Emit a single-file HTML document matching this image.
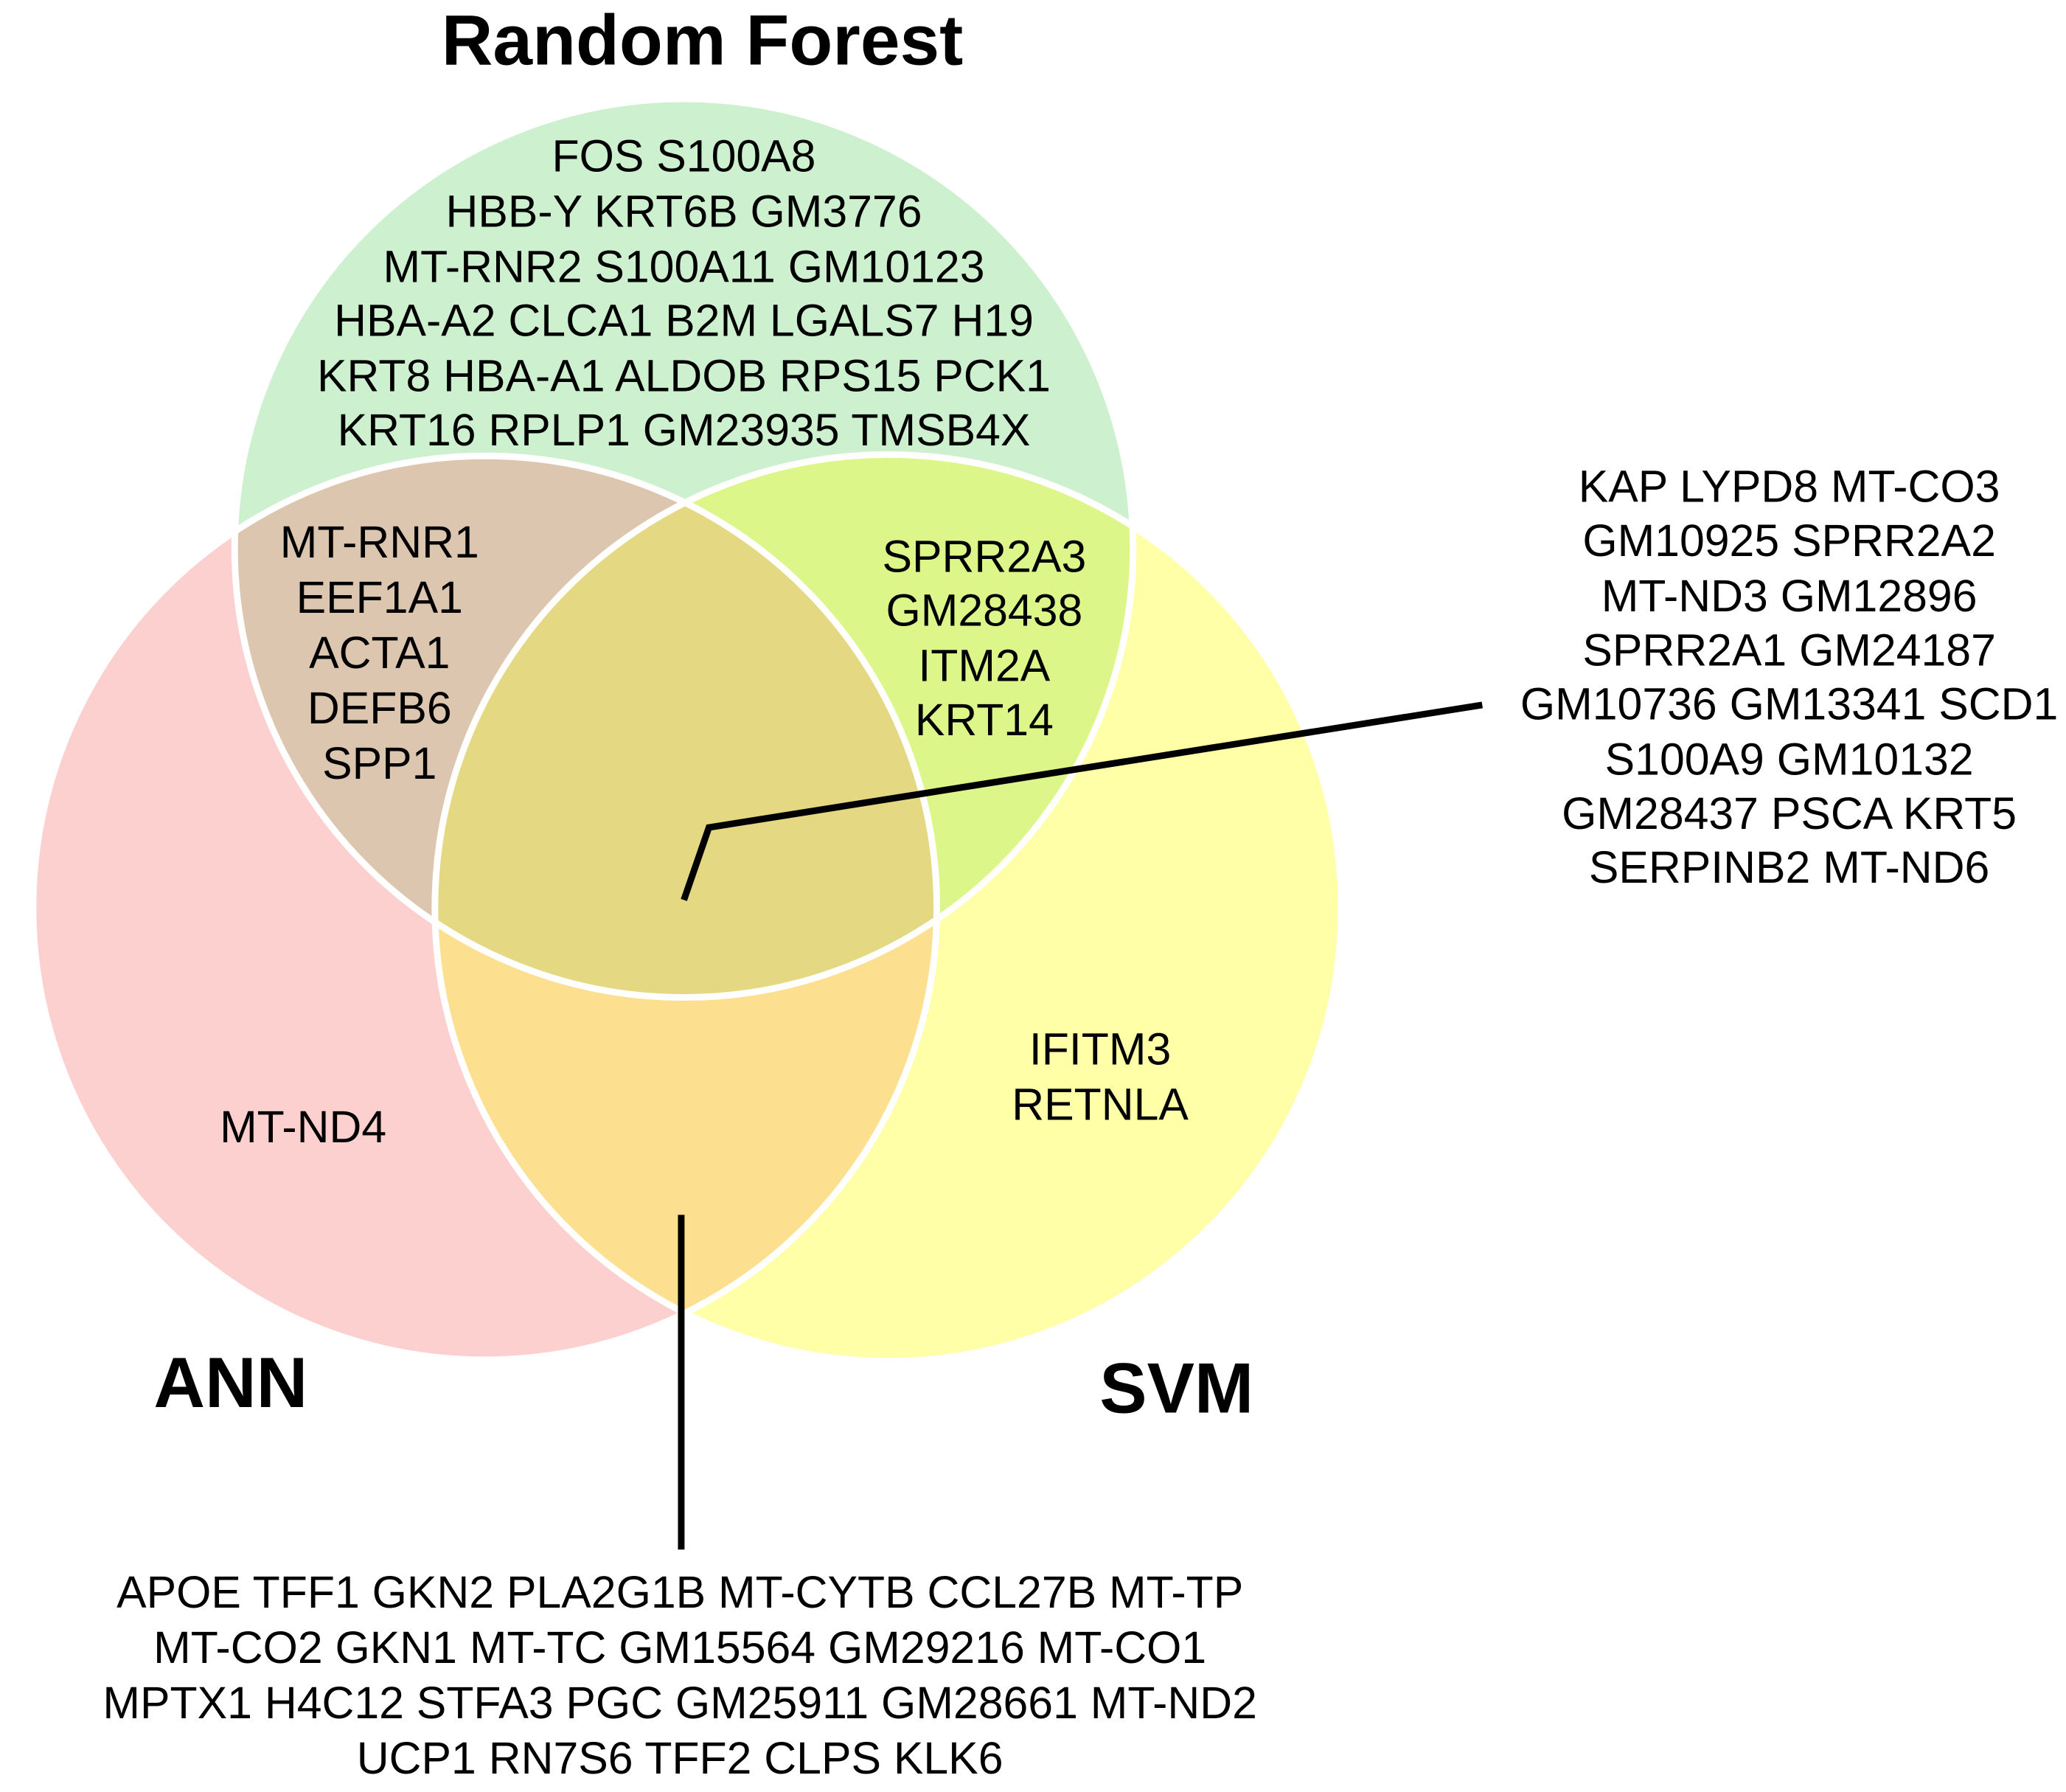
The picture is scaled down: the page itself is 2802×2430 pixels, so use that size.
<!DOCTYPE html>
<html><head><meta charset="utf-8"><style>
html,body{margin:0;padding:0;background:#fff;}
svg{display:block;}
text{font-family:"Liberation Sans",Arial,sans-serif;fill:#000;}
</style></head><body>
<svg width="2802" height="2430" viewBox="0 0 1568 1360" xmlns="http://www.w3.org/2000/svg">
<defs>
<clipPath id="cRF"><circle cx="519" cy="416" r="341"/></clipPath>
<clipPath id="cANN"><circle cx="368" cy="689" r="343"/></clipPath>
<clipPath id="cSVM"><circle cx="674" cy="689" r="344"/></clipPath>
</defs>
<rect width="1568" height="1360" fill="#fff"/>
<circle cx="519" cy="416" r="341" fill="#cdf0cf"/>
<circle cx="368" cy="689" r="343" fill="#fdd0d0"/>
<circle cx="674" cy="689" r="344" fill="#ffffa8"/>
<g clip-path="url(#cRF)"><circle cx="368" cy="689" r="343" fill="#dcc6b0"/><circle cx="674" cy="689" r="344" fill="#ddf68a"/></g>
<g clip-path="url(#cANN)"><circle cx="674" cy="689" r="344" fill="#fddf90"/></g>
<g clip-path="url(#cANN)"><g clip-path="url(#cSVM)"><circle cx="519" cy="416" r="341" fill="#e5d883"/></g></g>
<g fill="none" stroke="#fff" stroke-width="5">
<circle cx="519" cy="416" r="341"/>
<circle cx="368" cy="689" r="343"/>
<circle cx="674" cy="689" r="344"/>
</g>
<polyline points="519,683 538,628 1125,535" fill="none" stroke="#000" stroke-width="5"/>
<line x1="517" y1="922" x2="517" y2="1176" stroke="#000" stroke-width="5"/>
<g font-size="34" text-anchor="middle">
<text x="519" y="130">FOS S100A8</text>
<text x="519" y="172">HBB-Y KRT6B GM3776</text>
<text x="519" y="214">MT-RNR2 S100A11 GM10123</text>
<text x="519" y="255">HBA-A2 CLCA1 B2M LGALS7 H19</text>
<text x="519" y="297">KRT8 HBA-A1 ALDOB RPS15 PCK1</text>
<text x="519" y="338">KRT16 RPLP1 GM23935 TMSB4X</text>
<text x="288" y="423">MT-RNR1</text>
<text x="288" y="465">EEF1A1</text>
<text x="288" y="507">ACTA1</text>
<text x="288" y="549">DEFB6</text>
<text x="288" y="591">SPP1</text>
<text x="747" y="434">SPRR2A3</text>
<text x="747" y="475">GM28438</text>
<text x="747" y="517">ITM2A</text>
<text x="747" y="558">KRT14</text>
<text x="230" y="867">MT-ND4</text>
<text x="835" y="808">IFITM3</text>
<text x="835" y="850">RETNLA</text>
<text x="1358" y="381">KAP LYPD8 MT-CO3</text>
<text x="1358" y="422">GM10925 SPRR2A2</text>
<text x="1358" y="464">MT-ND3 GM12896</text>
<text x="1358" y="505">SPRR2A1 GM24187</text>
<text x="1358" y="546">GM10736 GM13341 SCD1</text>
<text x="1358" y="588">S100A9 GM10132</text>
<text x="1358" y="629">GM28437 PSCA KRT5</text>
<text x="1358" y="670">SERPINB2 MT-ND6</text>
<text x="516" y="1220">APOE TFF1 GKN2 PLA2G1B MT-CYTB CCL27B MT-TP</text>
<text x="516" y="1262">MT-CO2 GKN1 MT-TC GM15564 GM29216 MT-CO1</text>
<text x="516" y="1304">MPTX1 H4C12 STFA3 PGC GM25911 GM28661 MT-ND2</text>
<text x="516" y="1346">UCP1 RN7S6 TFF2 CLPS KLK6</text>
</g>
<g font-weight="bold" font-size="54" text-anchor="middle">
<text x="533" y="49">Random Forest</text>
<text x="175" y="1068">ANN</text>
<text x="893" y="1072">SVM</text>
</g>
</svg>
</body></html>
